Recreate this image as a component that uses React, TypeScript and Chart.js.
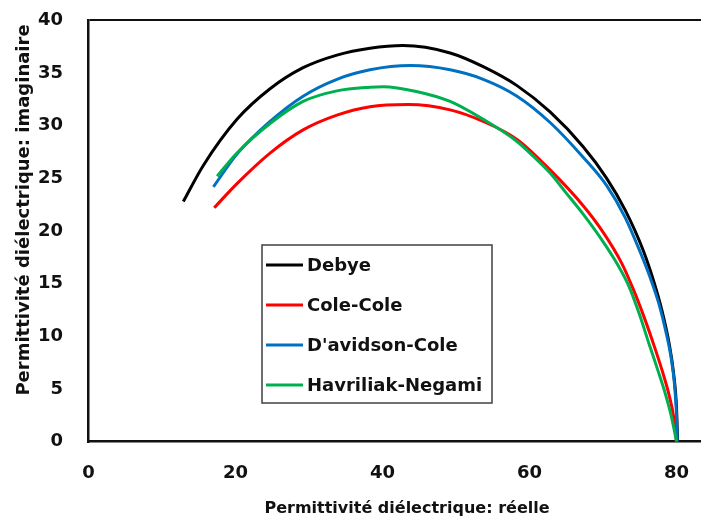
import { useEffect, useRef } from 'react';
import { Chart, registerables } from 'chart.js';

Chart.register(...registerables);

// ---- data ----
const seriesNames = ['Debye', 'Cole-Cole', "D'avidson-Cole", 'Havriliak-Negami'];
const seriesColors = ['#000000', '#ff0000', '#0070c0', '#00b050'];

const debyeX = [12.9, 15.6, 20.2, 24.7, 29.2, 33.8, 38.3, 42.8, 49.2, 53.7, 58.3, 62.8, 67.3, 70.5, 73.0, 75.5, 77.0, 78.0, 79.0, 79.6, 80.0, 80.15];
const debyeY = [22.8, 26.2, 30.6, 33.5, 35.5, 36.7, 37.35, 37.6, 36.9, 35.6, 33.8, 31.3, 28.0, 25.0, 22.0, 18.1, 15.0, 12.5, 9.3, 6.5, 3.2, 0];

const coleX = [17.1, 20.2, 24.7, 29.2, 33.8, 38.3, 43.5, 49.2, 53.7, 58.3, 62.8, 67.3, 70.0, 72.5, 74.1, 75.6, 77.0, 78.2, 79.0, 79.6, 80.0];
const coleY = [22.2, 24.5, 27.4, 29.6, 31.0, 31.8, 32.0, 31.5, 30.4, 28.7, 25.8, 22.4, 19.9, 17.0, 14.5, 11.8, 9.0, 6.4, 4.4, 2.4, 0];

const davidsonX = [17.0, 20.2, 24.7, 29.2, 33.8, 38.3, 43.8, 49.2, 53.7, 58.3, 62.8, 67.3, 70.5, 73.0, 75.0, 76.4, 77.6, 78.6, 79.3, 79.7, 80.0, 80.1];
const davidsonY = [24.2, 27.3, 30.4, 32.8, 34.4, 35.3, 35.7, 35.3, 34.4, 32.8, 30.3, 27.0, 24.3, 21.3, 18.1, 15.6, 13.1, 10.3, 7.8, 5.6, 2.5, 0];

const havriliakX = [17.5, 20.2, 24.7, 29.2, 33.8, 38.3, 40.1, 44.6, 49.2, 53.7, 58.3, 60.5, 62.8, 65.0, 67.3, 70.0, 72.0, 73.5, 75.0, 76.3, 77.5, 78.5, 79.3, 80.0];
const havriliakY = [25.2, 27.4, 30.2, 32.3, 33.3, 33.65, 33.7, 33.25, 32.3, 30.6, 28.5, 27.1, 25.5, 23.6, 21.6, 19.0, 16.8, 14.8, 12.0, 9.2, 6.7, 4.5, 2.4, 0];

const xTickValues = [0, 20, 40, 60, 80];
const yTickValues = [0, 5, 10, 15, 20, 25, 30, 35, 40];
const xTitle = 'Permittivité diélectrique: réelle';
const yTitle = 'Permittivité diélectrique: imaginaire';

const seriesX = [debyeX, coleX, davidsonX, havriliakX];
const seriesY = [debyeY, coleY, davidsonY, havriliakY];

const FONT = '"DejaVu Sans", sans-serif';
const TEXT = '#111111';

const zeroPadding = (scale: any) => {
  scale.paddingTop = 0;
  scale.paddingBottom = 0;
  scale.paddingLeft = 0;
  scale.paddingRight = 0;
};

const overlayPlugin = {
  id: 'overlay',
  afterDraw(chart: any) {
    const ctx = chart.ctx as CanvasRenderingContext2D;
    // axis titles
    ctx.save();
    ctx.fillStyle = TEXT;
    ctx.font = `bold 16px ${FONT}`;
    ctx.textAlign = 'center';
    ctx.textBaseline = 'alphabetic';
    ctx.fillText(xTitle, 407, 513);
    ctx.restore();

    ctx.save();
    ctx.fillStyle = TEXT;
    ctx.font = `bold 18px ${FONT}`;
    ctx.textAlign = 'center';
    ctx.textBaseline = 'alphabetic';
    ctx.translate(28.5, 210);
    ctx.rotate(-Math.PI / 2);
    ctx.fillText(yTitle, 0, 0);
    ctx.restore();

    // legend box
    ctx.save();
    ctx.fillStyle = '#ffffff';
    ctx.fillRect(262, 245, 230, 158);
    ctx.strokeStyle = '#404040';
    ctx.lineWidth = 1.5;
    ctx.strokeRect(262, 245, 230, 158);
    ctx.font = `bold 18px ${FONT}`;
    ctx.textAlign = 'left';
    ctx.textBaseline = 'middle';
    chart.data.datasets.forEach((ds: any, i: number) => {
      const y = 265 + i * 40;
      ctx.strokeStyle = ds.borderColor;
      ctx.lineWidth = 3;
      ctx.beginPath();
      ctx.moveTo(266, y);
      ctx.lineTo(303, y);
      ctx.stroke();
      ctx.fillStyle = TEXT;
      ctx.fillText(ds.label, 307, y + 1);
    });
    ctx.restore();
  },
};

export default function App() {
  const canvasRef = useRef<HTMLCanvasElement | null>(null);

  useEffect(() => {
    const canvas = canvasRef.current;
    if (!canvas) return;
    const datasets = seriesNames.map((name, i) => ({
      label: name,
      data: seriesX[i].map((x, j) => ({ x, y: seriesY[i][j] })),
      borderColor: seriesColors[i],
      backgroundColor: seriesColors[i],
      borderWidth: 3,
      pointRadius: 0,
      showLine: true,
      fill: false,
      cubicInterpolationMode: 'monotone' as const,
      order: seriesNames.length - i,
    }));

    const chart = new Chart(canvas, {
      type: 'scatter',
      data: { datasets },
      options: {
        animation: false,
        responsive: false,
        layout: { autoPadding: false, padding: { top: 20.3, right: 0, left: 0, bottom: 0 } },
        plugins: {
          legend: { display: false },
          tooltip: { enabled: false },
        },
        scales: {
          x: {
            type: 'linear',
            min: 0,
            max: 83.33,
            afterBuildTicks: (scale: any) => {
              scale.ticks = xTickValues.map((v) => ({ value: v }));
            },
            afterFit: (scale: any) => {
              scale.height = 77.3;
              zeroPadding(scale);
            },
            grid: { display: false, drawTicks: false },
            border: { display: true, color: '#111111', width: 2.5 },
            ticks: {
              padding: 20.8,
              color: TEXT,
              font: { family: FONT, weight: 'bold', size: 18 },
            },
          },
          y: {
            type: 'linear',
            min: 0,
            max: 40,
            afterBuildTicks: (scale: any) => {
              scale.ticks = yTickValues.map((v) => ({ value: v }));
            },
            afterFit: (scale: any) => {
              scale.width = 88.5;
              zeroPadding(scale);
            },
            grid: {
              display: true,
              drawTicks: false,
              color: (c: any) => (c.tick && c.tick.value === 40 ? '#111111' : 'rgba(0,0,0,0)'),
              lineWidth: 2,
            },
            border: { display: true, color: '#111111', width: 2.5 },
            ticks: {
              padding: 25.5,
              color: TEXT,
              font: { family: FONT, weight: 'bold', size: 18 },
            },
          },
        },
      },
      plugins: [overlayPlugin],
    });

    return () => {
      chart.destroy();
    };
  }, []);

  return (
    <div style={{ position: 'absolute', left: 0, top: 0, width: 701, height: 519, background: '#ffffff' }}>
      <canvas ref={canvasRef} width={701} height={519} style={{ display: 'block' }} />
    </div>
  );
}
